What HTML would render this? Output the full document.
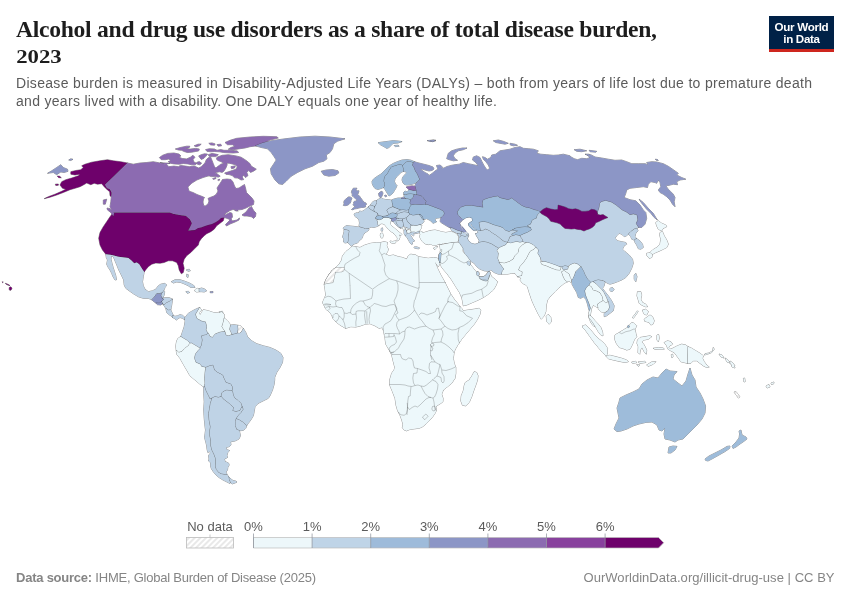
<!DOCTYPE html>
<html><head><meta charset="utf-8">
<style>
html,body{margin:0;padding:0;background:#fff;}
body{width:850px;height:600px;overflow:hidden;position:relative;font-family:"Liberation Sans",sans-serif;}
svg{position:absolute;left:0;top:0;}
.t{font-family:"Liberation Serif",serif;font-weight:700;font-size:23.6px;fill:#1d1d1d}
.s{font-family:"Liberation Sans",sans-serif;font-size:14px;fill:#5b5b5b}
.l{font-family:"Liberation Sans",sans-serif;font-size:13px;fill:#5b5b5b}
.f{font-family:"Liberation Sans",sans-serif;font-size:13px;fill:#858585}
.logo{font-family:"Liberation Sans",sans-serif;font-weight:700;font-size:11.6px;fill:#fff;letter-spacing:-0.3px}
.c path{stroke:#333;stroke-opacity:0.55;stroke-width:0.9;stroke-linejoin:round;paint-order:stroke}
</style></head><body>
<svg width="850" height="600" viewBox="0 0 850 600">
<defs>
<pattern id="hatch" patternUnits="userSpaceOnUse" width="4" height="4" patternTransform="rotate(45)"><rect width="4" height="4" fill="#fff"/><line x1="2" y1="0" x2="2" y2="4" stroke="#ddd" stroke-width="1.3"/></pattern>
</defs>
<text class="t" x="16" y="36.5" textLength="641" lengthAdjust="spacing">Alcohol and drug use disorders as a share of total disease burden,</text>
<text class="t" transform="translate(16.2,63.4) scale(1.23,1)" style="font-size:18.5px">2023</text>
<text class="s" x="16" y="88" textLength="796" lengthAdjust="spacing">Disease burden is measured in Disability-Adjusted Life Years (DALYs) – both from years of life lost due to premature death</text>
<text class="s" x="16" y="106" textLength="481" lengthAdjust="spacing">and years lived with a disability. One DALY equals one year of healthy life.</text>
<rect x="769" y="16" width="65" height="36" fill="#002147"/>
<rect x="769" y="49" width="65" height="3" fill="#ce261e"/>
<text class="logo" x="801.5" y="31" text-anchor="middle">Our World</text>
<text class="logo" x="801.5" y="43" text-anchor="middle">in Data</text>
<g class="c">
<path fill="#bfd3e6" d="M368.0 215.0L372.0 206.0L385.0 200.0L400.0 200.0L415.0 205.0L421.0 211.0L421.0 226.0L416.0 230.0L411.0 228.0L404.0 226.0L396.0 221.0L388.0 218.0L378.0 220.0Z" style="stroke:none"/>
<path fill="#6e016b" d="M81.7 165.8L85.0 164.2L91.7 162.2L100.0 160.8L107.5 159.7L113.3 160.8L120.8 161.7L127.5 163.0L105.0 184.7L107.0 188.0L110.0 189.2L111.7 192.5L111.3 196.7L110.0 195.8L109.7 191.7L107.5 190.0L104.2 186.7L101.7 183.7L97.5 184.2L94.2 183.3L90.8 184.7L86.7 183.0L83.3 185.0L80.0 186.7L75.0 188.3L70.0 189.7L63.3 192.5L56.7 195.0L50.0 197.2L44.2 198.7L48.3 196.7L55.0 194.2L61.7 191.3L65.8 189.2L62.5 188.3L60.0 185.0L61.7 181.7L65.8 179.7L71.7 178.0L78.3 175.8L80.0 174.2L75.0 175.0L70.8 174.2L70.8 171.7L75.8 170.5L80.8 169.7L83.3 167.5ZM57.2 176.0L59.7 176.3L61.3 177.7L58.7 177.7ZM55.3 184.2L58.3 184.0L58.3 185.3L55.8 185.5ZM113.3 212.5L170.0 212.5L173.3 213.8L180.0 215.0L185.8 215.8L190.0 219.2L192.0 223.3L190.0 227.5L188.3 230.5L193.3 229.7L200.0 227.0L206.7 224.2L213.3 221.7L218.3 218.3L221.7 216.7L224.2 217.5L223.3 220.8L220.0 223.3L216.7 225.8L214.2 229.2L210.8 231.7L206.7 233.7L204.2 235.8L201.3 238.7L199.2 241.7L198.3 245.0L195.0 248.3L190.8 252.5L186.7 255.8L184.2 259.2L183.0 263.3L184.2 268.3L183.3 272.5L181.3 273.8L179.2 270.0L178.3 265.8L176.7 262.5L172.5 260.8L168.3 260.8L164.2 262.5L160.0 263.3L155.8 263.0L151.7 264.2L148.3 266.7L145.8 269.7L144.2 272.0L141.7 268.3L139.2 264.2L136.7 262.5L134.2 263.3L131.7 260.8L128.3 258.0L124.2 257.5L118.3 256.7L111.7 255.0L105.8 254.2L102.5 250.0L100.0 245.0L98.7 238.3L100.0 232.5L103.3 226.7L106.7 221.7L110.0 216.7ZM9.2 287.6L10.6 286.8L12.0 288.0L11.5 289.6L10.0 290.6L9.2 289.4ZM5.3 283.3L7.1 283.9L8.8 284.7L10.0 285.6L8.2 285.3L5.9 284.1ZM2.1 281.8L3.3 282.1L2.6 282.7Z"/>
<path fill="#8c96c6" d="M47.5 173.3L51.7 170.8L56.7 167.5L60.8 164.7L63.3 167.5L67.5 169.2L68.0 171.3L64.2 172.5L60.8 172.0L56.7 174.7L53.3 172.5ZM68.7 160.0L70.8 158.8L73.0 159.3L70.8 160.5ZM401.0 198.0L403.5 197.0L405.5 198.5L404.5 199.0L401.5 199.0ZM413.0 162.8L414.0 161.5L417.0 162.5L421.0 163.5L425.0 164.5L429.0 165.5L433.0 167.0L434.0 169.0L432.0 170.5L429.0 171.0L425.0 170.0L422.0 169.0L420.5 169.5L423.0 171.0L425.0 172.5L428.0 174.0L429.0 175.5L432.0 173.5L435.0 171.0L438.0 169.0L437.0 167.0L436.5 165.5L440.0 165.0L442.5 167.0L441.0 168.5L444.0 168.0L447.0 166.5L449.0 166.0L451.7 165.3L455.0 164.7L459.2 164.2L463.3 162.5L468.3 163.7L473.3 164.7L478.3 165.8L475.8 162.5L472.5 160.0L473.3 157.0L476.7 155.8L480.0 157.5L482.0 161.7L483.7 165.0L485.8 168.3L487.5 170.0L489.7 168.3L488.3 165.0L485.8 161.7L483.3 159.2L482.5 156.7L485.0 157.5L487.5 159.2L490.8 157.5L491.7 155.0L495.8 154.2L500.0 150.8L505.0 150.0L510.0 149.2L515.0 147.5L520.0 146.7L523.3 148.3L528.3 148.7L533.3 149.2L538.3 150.8L536.7 153.3L540.8 154.2L546.7 154.7L553.3 155.3L558.3 155.0L563.3 154.2L570.0 155.8L570.0 156.3L574.2 158.7L577.5 159.7L581.7 158.3L586.7 158.7L590.0 157.5L587.5 155.3L590.8 154.7L595.0 157.0L601.7 158.0L608.3 159.2L615.0 160.3L621.7 160.0L626.7 161.7L631.7 163.7L638.3 163.7L645.0 163.7L648.3 164.7L646.7 162.5L651.7 161.7L656.7 162.0L663.3 163.7L668.3 166.3L673.3 169.7L678.3 173.3L676.7 175.0L681.7 177.5L685.8 179.2L680.0 180.0L676.7 181.7L677.5 184.7L673.3 184.2L669.2 185.3L665.8 185.8L668.3 189.2L670.8 191.7L673.3 194.2L675.0 197.5L674.2 201.7L675.0 206.7L672.5 204.2L670.0 200.0L666.7 196.7L663.3 194.2L660.0 192.5L658.3 190.0L660.8 186.7L660.0 182.5L658.3 180.0L656.7 183.3L655.0 182.5L650.8 181.7L648.3 184.2L647.5 187.5L643.3 186.7L636.7 187.5L630.0 188.3L626.7 190.0L625.8 193.3L624.2 197.5L630.0 199.7L635.8 200.8L640.0 205.0L643.3 210.0L645.8 212.5L646.7 218.3L645.0 224.2L641.7 227.5L638.3 227.5L635.8 223.3L637.5 220.0L636.7 215.0L633.3 214.2L630.0 215.0L626.7 212.5L621.7 210.0L616.7 205.8L611.7 202.5L605.8 200.8L601.7 201.7L600.0 203.3L599.2 208.3L597.5 214.2L595.0 214.2L590.8 212.5L585.0 213.3L580.0 214.2L573.3 212.5L566.7 211.7L561.7 210.3L557.5 210.0L555.0 212.5L550.0 211.3L544.2 212.5L540.0 213.3L538.3 210.8L534.2 210.0L530.0 208.3L525.8 207.5L521.7 205.8L518.3 203.3L515.0 200.8L511.7 198.3L508.3 200.0L505.0 199.2L500.0 198.0L497.5 196.3L493.3 197.0L488.3 198.3L483.3 200.0L482.5 203.3L483.3 207.5L478.3 206.7L471.7 205.8L465.8 205.8L460.8 207.5L457.5 211.7L458.3 215.0L461.7 218.3L460.0 222.5L460.8 226.7L462.5 230.0L464.0 232.5L464.0 232.5L461.5 231.8L459.0 231.0L456.0 230.0L453.0 228.5L450.0 227.8L448.3 227.0L445.0 225.0L441.7 223.0L440.0 221.5L440.5 219.0L441.2 217.1L442.5 216.0L444.0 214.0L443.5 211.5L440.0 209.5L436.0 208.0L432.0 206.5L428.0 205.0L424.5 204.5L425.5 205.5L425.0 204.0L426.0 201.0L424.0 199.0L422.0 196.5L419.5 195.5L416.5 195.0L416.5 193.5L416.0 190.5L415.5 188.5L415.0 186.2L415.5 184.0L417.0 182.0L419.5 179.5L418.5 177.5L417.0 174.0L415.0 171.0L414.0 168.0L412.0 165.0ZM446.7 158.7L448.3 153.3L451.7 150.8L456.7 149.2L462.5 148.0L467.0 148.0L463.3 149.7L458.3 150.8L455.0 153.0L453.3 155.8L455.0 158.7L457.5 160.3L453.3 160.8L449.2 159.7ZM493.3 140.8L498.3 140.0L503.3 141.3L508.3 143.3L505.0 144.2L500.0 143.3L495.8 142.5ZM510.0 143.3L515.0 144.2L517.5 145.3L513.3 145.8L510.3 145.0ZM430.0 140.8L433.3 140.0L435.8 140.7L432.5 141.7ZM639.2 199.2L643.3 202.5L648.3 208.3L653.3 213.3L655.8 217.5L657.5 220.0L654.2 217.5L650.8 213.3L646.7 209.2L642.5 204.2L640.0 200.8ZM574.2 149.7L580.0 149.2L586.7 150.8L581.7 151.7L576.7 151.3ZM589.2 150.3L596.7 151.3L595.8 152.2L590.0 151.7ZM585.0 154.2L589.2 154.2L590.8 155.8L587.5 155.3ZM655.3 159.2L657.5 159.5L658.3 160.5L656.3 160.3ZM427.1 140.6L431.3 140.2L435.5 140.2L433.4 141.3L429.9 141.6Z"/>
<path fill="#8c6bb1" d="M127.5 163.0L133.3 164.2L140.0 163.0L146.7 162.5L153.3 161.7L160.0 163.0L165.0 164.2L170.0 163.3L160.1 162.7L166.4 164.2L168.9 166.7L174.0 166.1L178.4 166.7L180.3 165.4L185.4 166.1L189.2 166.7L194.2 166.1L198.7 168.0L201.2 166.7L205.0 162.9L206.3 159.7L208.2 157.8L210.7 157.2L212.0 160.4L213.2 163.5L214.5 166.7L215.8 168.0L218.3 166.1L220.8 164.2L224.0 163.2L226.5 163.2L227.2 164.8L225.9 168.0L224.0 171.1L222.1 172.4L219.6 171.8L215.8 172.4L213.2 173.7L210.7 174.3L208.8 175.8L203.1 177.5L196.8 180.0L191.7 183.2L187.9 187.0L188.9 190.8L190.0 191.5L193.0 192.5L197.0 194.5L201.0 196.0L204.5 197.5L203.5 199.0L203.0 202.0L203.5 205.0L205.0 206.2L208.0 204.0L209.0 201.0L208.0 198.5L210.0 197.5L214.0 196.0L216.5 194.0L218.0 191.0L217.0 188.0L219.0 185.0L221.0 182.0L222.5 179.5L227.0 179.0L231.0 179.5L233.0 182.0L234.5 186.0L236.0 188.5L239.0 188.0L242.0 186.0L244.5 184.5L245.5 188.0L246.5 192.5L249.0 195.0L252.0 198.0L254.0 201.0L253.5 204.5L250.0 206.0L246.0 208.0L242.0 209.5L237.0 210.0L233.0 209.5L230.0 210.5L227.0 212.5L224.0 214.5L225.5 214.8L230.0 212.5L232.0 213.2L232.5 217.0L231.2 218.8L232.0 221.0L237.0 220.0L239.5 218.0L239.0 220.0L235.0 222.0L230.0 224.0L226.5 226.0L225.5 224.5L228.0 222.0L230.0 220.0L228.5 219.0L226.0 218.0L224.0 217.5L221.0 218.0L219.0 220.0L216.0 222.0L212.0 224.0L208.0 225.0L205.0 226.0L201.0 227.5L198.0 228.0L195.0 230.0L188.3 230.5L190.0 227.5L192.0 223.3L190.0 219.2L185.8 215.8L180.0 215.0L173.3 213.8L170.0 212.5L113.3 212.5L112.8 212.8L110.0 206.7L110.8 201.7L111.3 196.7L111.7 192.5L110.0 189.2L107.0 188.0L105.0 184.7ZM103.3 200.0L106.7 199.2L105.3 204.2L103.3 204.2ZM107.0 208.0L110.0 208.7L114.2 213.3L113.3 216.2L110.8 212.5L107.5 210.0ZM242.0 215.0L246.0 212.0L249.0 208.0L251.5 206.5L252.5 208.5L254.0 211.0L256.0 213.0L255.5 216.5L253.5 218.5L252.0 217.0L250.0 216.5L247.0 216.0L244.0 216.0ZM234.5 210.0L237.0 210.0L238.2 211.0L236.0 211.0ZM217.0 157.2L222.1 155.3L228.4 154.7L236.0 155.9L241.1 157.2L246.1 160.4L249.9 163.5L251.2 166.1L256.3 169.2L253.7 171.1L250.6 172.4L248.7 170.5L246.8 172.4L248.0 175.6L245.5 177.5L243.6 174.9L242.3 177.1L243.6 179.6L241.1 180.0L237.9 178.1L234.7 177.8L232.2 175.6L229.1 174.6L225.9 174.3L224.6 173.0L228.4 171.8L232.2 170.5L236.0 169.2L237.3 166.7L235.4 164.8L232.2 163.9L229.1 163.2L226.5 163.2L224.0 163.2L220.8 161.6L217.7 160.4L216.4 158.9ZM230.9 166.7L235.4 165.8L234.5 168.0L231.6 168.7ZM210.7 174.3L213.9 172.4L217.0 173.7L220.2 176.2L218.3 177.1L214.5 176.6L211.3 176.6L208.8 175.8ZM212.6 178.7L215.5 177.6L216.0 178.5L213.5 179.4ZM217.7 180.0L219.3 179.1L219.8 180.1L218.3 180.6ZM159.4 157.6L162.6 155.3L167.7 153.4L174.0 153.0L179.1 154.1L180.9 155.9L179.1 157.2L182.2 158.5L186.6 158.9L190.4 157.2L193.0 155.3L194.9 157.2L193.0 159.7L194.2 162.3L196.8 163.2L195.5 164.8L191.7 164.8L187.9 163.9L183.5 163.5L179.1 164.2L174.0 163.9L170.2 163.2L168.3 161.6L170.8 160.4L168.9 159.1L165.1 159.7L161.3 159.7ZM175.3 149.0L180.3 147.5L186.6 146.2L189.8 146.2L189.2 147.7L185.4 149.0L190.4 149.0L195.5 148.4L199.3 149.0L198.7 150.9L195.5 151.5L191.7 152.2L187.3 152.5L184.1 151.5L181.6 150.3L178.4 150.0ZM194.2 145.8L198.0 144.2L201.2 144.2L199.3 145.8L196.1 146.7ZM198.7 155.9L201.2 154.7L204.4 153.8L207.5 154.1L205.6 156.6L203.7 158.5L201.2 159.4L199.9 157.8ZM196.8 162.3L199.3 161.6L201.6 163.2L199.9 164.8L197.4 164.2ZM208.2 154.7L212.0 153.4L215.8 154.1L218.3 154.7L215.8 156.6L212.6 156.6L209.4 156.6ZM205.6 149.6L209.4 148.7L214.5 149.0L217.0 150.3L220.8 149.6L224.0 150.3L230.9 150.3L237.3 150.9L238.5 152.5L233.5 153.0L227.8 152.8L223.4 152.5L219.6 151.8L214.5 151.5L210.7 151.8L206.9 151.3ZM208.8 143.3L212.0 142.9L215.1 143.9L214.5 145.2L210.7 144.9ZM217.0 144.6L220.8 144.2L221.5 145.8L218.3 146.2ZM225.0 142.5L230.0 140.3L236.7 138.3L250.0 137.0L263.3 136.3L276.7 136.7L278.3 138.0L270.0 140.0L265.0 142.5L259.2 144.2L256.7 145.8L250.0 146.7L245.0 148.0L240.0 148.7L233.3 149.7L228.3 149.2L230.8 147.5L235.0 146.3L232.5 144.7L227.5 144.7Z"/>
<path fill="#8c96c6" d="M255.5 145.8L262.5 143.0L272.5 140.5L285.0 138.8L300.0 137.0L315.0 136.2L330.0 137.0L345.0 138.8L337.5 141.2L333.8 143.8L332.5 148.8L330.0 152.5L326.2 155.0L327.0 158.8L323.8 161.2L318.8 162.5L312.5 166.2L305.0 168.8L297.5 172.5L291.2 176.2L286.2 181.2L282.5 184.5L278.8 183.8L275.0 180.0L271.2 173.8L270.5 168.8L273.8 163.8L276.2 160.0L273.8 156.2L271.2 152.5L267.5 148.8L261.2 147.5Z"/>
<path fill="#8c96c6" d="M321.2 171.2L326.2 170.0L332.5 169.5L338.0 170.8L338.8 173.0L335.0 175.5L328.8 176.2L323.8 175.0Z"/>
<path fill="#bfd3e6" d="M144.2 272.0L143.3 276.7L142.5 281.7L143.3 285.8L145.0 289.2L148.3 291.7L152.5 290.8L155.8 289.2L158.3 285.8L160.8 284.2L165.0 283.3L166.7 285.0L165.0 287.5L163.7 290.8L162.5 293.0L161.7 293.0L159.2 293.7L156.7 293.7L155.3 295.8L153.3 298.3L151.7 299.7L148.3 298.3L143.3 298.3L138.3 296.7L133.3 293.7L129.2 290.8L125.8 288.3L124.2 285.0L123.7 280.0L121.3 275.0L118.8 270.0L116.8 265.0L114.7 260.0L113.3 256.7L111.3 256.0L111.0 259.2L112.0 263.3L113.2 267.5L114.5 271.7L115.8 275.8L116.5 279.7L115.0 280.0L113.0 276.7L111.7 273.3L110.0 270.0L108.3 267.5L106.7 264.2L107.5 260.0L106.3 257.5L105.8 254.2L111.7 255.0L118.3 256.7L124.2 257.5L128.3 258.0L131.7 260.8L134.2 263.3L136.7 262.5L139.2 264.2L141.7 268.3L144.2 272.0Z"/>
<path fill="#8c96c6" d="M155.3 295.8L156.7 293.7L159.2 293.7L161.7 293.0L161.3 295.8L162.5 298.3L164.2 299.2L161.7 301.7L159.2 303.3L155.8 303.0L153.3 301.3L151.7 299.7L153.3 298.3Z"/>
<path fill="#bfd3e6" d="M162.5 293.0L163.7 290.8L164.7 291.7L164.2 295.0L163.0 297.5L162.5 298.3L161.3 295.8L161.7 293.0Z"/>
<path fill="#bfd3e6" d="M162.5 298.3L165.0 297.7L169.2 297.7L172.5 299.2L170.8 300.8L168.3 302.0L165.8 303.3L164.2 305.0L162.5 303.7L161.7 301.7L164.2 299.2Z"/>
<path fill="#8c96c6" d="M155.8 303.0L159.2 303.3L161.7 301.7L162.5 303.7L160.8 305.0L157.5 304.7Z"/>
<path fill="#bfd3e6" d="M164.2 305.0L165.8 303.3L168.3 302.0L170.8 300.8L172.5 299.2L172.0 303.3L171.3 307.5L170.8 310.0L168.3 310.3L165.8 308.3L162.5 303.7Z"/>
<path fill="#bfd3e6" d="M165.8 308.3L168.3 310.3L170.8 310.0L172.0 312.5L173.3 315.3L172.5 317.5L170.8 315.8L168.3 314.2L166.7 312.5Z"/>
<path fill="#bfd3e6" d="M172.5 315.3L175.0 316.3L177.5 315.8L180.0 314.7L182.5 315.3L185.0 317.5L184.7 319.7L182.5 318.3L180.0 317.5L178.0 318.7L176.3 320.0L174.2 318.3L172.5 317.5Z"/>
<path fill="#bfd3e6" d="M171.3 281.7L175.0 279.7L180.0 279.7L185.0 281.3L190.0 283.3L194.2 285.8L195.0 287.5L190.8 287.5L188.3 285.8L185.0 284.2L180.8 282.5L176.7 282.0L173.3 283.0Z"/>
<path fill="#bfd3e6" d="M185.8 291.7L188.3 291.3L189.7 292.5L187.5 293.3Z"/>
<path fill="#edf8fb" d="M194.7 290.0L197.0 288.3L199.2 288.7L199.2 291.7L196.7 292.0L195.0 291.3Z"/>
<path fill="#bfd3e6" d="M199.2 288.7L201.7 288.0L205.0 289.2L206.7 290.8L204.2 292.0L201.7 291.7L199.2 291.7Z"/>
<path fill="#8c96c6" d="M210.0 291.7L213.0 291.5L213.0 292.7L210.3 292.8Z"/>
<path fill="#bfd3e6" d="M186.3 270.0L189.2 269.2L190.3 270.8L188.3 271.3ZM186.7 274.2L188.3 274.7L188.0 277.5L186.7 276.7Z"/>
<path fill="#edf8fb" d="M219.2 311.7L222.5 311.3L223.0 313.3L220.0 313.7Z"/>
<path fill="#bfd3e6" d="M185.0 317.5L188.3 313.3L192.5 310.8L196.7 308.7L199.7 307.5L198.3 310.0L195.8 314.2L197.0 318.3L201.7 320.8L205.8 321.7L207.0 326.7L206.3 330.0L208.3 333.3L205.8 335.0L201.7 335.8L202.5 340.0L201.7 345.0L200.0 348.3L195.8 345.8L191.7 343.3L190.0 343.3L187.5 340.8L183.3 338.3L180.8 336.7L182.5 331.7L184.2 326.7L185.0 321.7L185.0 317.5Z"/>
<path fill="#edf8fb" d="M199.7 307.5L201.7 310.0L199.2 312.5L200.0 315.0L201.7 312.5L203.3 309.7L208.3 310.8L213.3 312.5L218.3 313.0L221.7 312.0L224.2 314.2L224.2 318.0L223.3 322.5L222.0 326.7L224.7 330.8L225.0 331.7L222.5 331.7L219.2 332.5L215.0 334.2L212.5 337.5L210.0 336.7L208.3 333.3L206.3 330.0L207.0 326.7L205.8 321.7L201.7 320.8L197.0 318.3L195.8 314.2L198.3 310.0L199.7 307.5Z"/>
<path fill="#edf8fb" d="M224.2 318.0L227.5 320.8L230.8 325.0L229.7 329.2L231.3 332.5L232.0 334.7L228.7 335.8L225.8 335.3L225.0 331.7L224.7 330.8L222.0 326.7L223.3 322.5L224.2 318.0Z"/>
<path fill="#bfd3e6" d="M230.8 325.0L234.2 324.7L238.0 325.3L238.3 329.2L237.5 333.3L234.2 334.2L232.0 334.7L231.3 332.5L229.7 329.2L230.8 325.0Z"/>
<path fill="url(#hatch)" d="M238.0 325.3L240.8 325.8L243.3 328.3L241.7 331.7L239.7 333.3L237.5 333.3L238.3 329.2L238.0 325.3Z"/>
<path fill="#bfd3e6" d="M200.0 348.3L201.7 345.0L202.5 340.0L201.7 335.8L205.8 335.0L208.3 333.3L210.0 336.7L212.5 337.5L215.0 334.2L219.2 332.5L222.5 331.7L225.0 331.7L225.8 335.3L228.7 335.8L232.0 334.7L234.2 334.2L237.5 333.3L239.7 333.3L241.7 331.7L243.3 328.3L245.8 332.5L247.5 336.7L251.7 340.8L256.7 343.7L263.3 345.8L270.0 347.5L275.8 350.0L280.8 353.3L283.0 357.5L282.5 362.5L280.0 367.5L276.7 372.5L274.7 377.5L274.7 380.0L274.2 384.2L272.5 390.0L270.0 395.8L268.3 398.3L263.3 400.8L258.3 403.3L255.0 406.7L254.2 411.7L253.3 415.8L250.8 420.0L248.3 423.3L246.7 425.8L243.3 422.5L239.2 420.0L235.8 418.7L238.3 415.0L240.8 412.5L243.0 409.2L242.0 406.7L240.8 403.3L238.3 400.8L235.0 398.3L233.3 395.8L232.5 391.7L232.0 390.8L232.5 387.5L230.8 384.2L225.8 382.5L224.2 379.2L222.5 375.0L217.5 372.5L214.2 370.0L213.0 365.3L210.0 365.8L205.8 367.5L201.7 366.7L200.0 364.2L195.8 362.5L194.2 358.3L195.0 354.2L197.5 350.8L200.0 348.3Z"/>
<path fill="#edf8fb" d="M180.8 336.7L183.3 338.3L187.5 340.8L190.0 343.3L188.3 345.8L185.0 348.3L181.7 351.7L178.7 352.5L176.2 350.0L175.8 345.8L176.7 340.8L178.3 338.0L180.8 336.7Z"/>
<path fill="#edf8fb" d="M190.0 343.3L191.7 343.3L195.8 345.8L200.0 348.3L197.5 350.8L195.0 354.2L194.2 358.3L195.8 362.5L200.0 364.2L201.7 366.7L205.8 367.5L205.0 373.3L204.7 378.3L205.0 383.3L204.3 386.3L203.7 387.0L200.0 384.2L195.0 380.0L190.0 375.8L186.7 370.0L183.3 364.2L180.0 358.3L176.7 354.2L176.2 350.0L178.7 352.5L181.7 351.7L185.0 348.3L188.3 345.8L190.0 343.3Z"/>
<path fill="#bfd3e6" d="M205.8 367.5L210.0 365.8L213.0 365.3L214.2 370.0L217.5 372.5L222.5 375.0L224.2 379.2L225.8 382.5L230.8 384.2L232.5 387.5L232.0 390.8L226.7 390.3L223.0 391.7L221.7 393.3L221.3 396.7L218.3 397.5L215.0 396.7L211.7 398.3L210.0 399.2L208.3 395.8L205.8 390.8L204.3 386.3L205.0 383.3L204.7 378.3L205.0 373.3L205.8 367.5Z"/>
<path fill="#bfd3e6" d="M221.3 396.7L221.7 393.3L223.0 391.7L226.7 390.3L232.0 390.8L232.5 391.7L233.3 395.8L235.0 398.3L238.3 400.8L240.8 403.3L242.0 406.7L240.0 410.8L235.8 411.7L232.5 410.8L233.3 407.5L230.8 405.0L226.7 401.7L223.3 399.2L221.3 396.7Z"/>
<path fill="#bfd3e6" d="M235.8 418.7L239.2 420.0L243.3 422.5L246.7 425.8L245.8 428.3L243.3 430.3L240.0 430.8L236.7 429.7L235.0 425.8L235.0 421.7L235.8 418.7Z"/>
<path fill="#bfd3e6" d="M211.7 398.3L215.0 396.7L218.3 397.5L221.3 396.7L223.3 399.2L226.7 401.7L230.8 405.0L233.3 407.5L232.5 410.8L235.8 411.7L240.0 410.8L242.0 406.7L243.0 409.2L240.8 412.5L238.3 415.0L235.8 418.7L235.0 421.7L235.0 425.8L236.7 429.7L240.0 430.8L239.5 431.5L240.5 435.5L239.0 439.0L235.0 441.0L230.5 441.8L231.0 445.0L229.5 446.5L226.2 447.5L226.5 449.5L229.5 450.5L227.8 452.5L227.0 455.5L227.5 457.5L224.5 459.0L225.0 461.5L228.5 463.0L229.2 465.0L227.8 467.5L227.5 470.0L226.0 472.0L227.2 474.8L224.0 474.5L221.0 474.0L218.5 472.5L216.0 469.5L215.0 466.0L215.5 462.0L215.0 458.0L213.5 454.0L211.5 450.0L210.5 446.0L210.5 441.0L209.5 436.0L209.5 430.0L210.0 426.7L208.7 420.0L208.3 413.3L209.2 408.3L210.0 403.3L211.7 398.3ZM228.5 476.5L231.0 479.0L233.0 480.5L235.5 481.0L237.0 482.0L235.0 483.0L232.0 484.0L230.0 482.0L229.0 479.5Z"/>
<path fill="#bfd3e6" d="M204.3 386.3L205.8 390.8L208.3 395.8L210.0 399.2L211.7 398.3L210.0 403.3L209.2 408.3L208.3 413.3L208.7 420.0L210.0 426.7L209.5 430.0L209.5 436.0L210.5 441.0L210.5 446.0L211.5 450.0L213.5 454.0L215.0 458.0L215.5 462.0L215.0 466.0L216.0 469.5L218.5 472.5L221.0 474.0L224.0 474.5L227.2 474.8L228.5 476.5L229.0 479.5L230.0 482.0L230.0 483.5L227.0 482.0L223.0 480.0L219.0 477.5L216.0 475.0L213.5 472.0L211.5 469.0L210.5 466.0L210.5 462.5L208.5 461.0L209.0 459.0L208.5 455.5L210.5 453.0L209.5 451.5L207.8 452.5L207.0 449.0L206.5 445.0L205.5 441.0L204.5 437.5L205.0 434.0L205.5 430.0L205.0 426.7L204.2 418.3L203.7 410.0L204.2 401.7L203.7 393.3L203.7 387.0Z"/>
<path fill="#9ebcda" d="M372.0 181.5L373.5 179.0L377.0 176.5L381.0 174.0L385.0 170.0L389.0 166.0L393.0 163.5L397.0 161.8L402.0 160.0L407.0 159.5L411.0 160.2L414.0 161.5L413.0 162.8L411.5 162.2L409.5 161.5L407.0 161.8L404.5 163.5L402.5 165.5L400.5 164.5L398.0 165.0L395.0 166.0L391.5 167.0L389.5 170.0L388.0 173.0L385.5 175.5L384.5 178.0L384.0 181.0L385.0 184.0L384.5 186.5L383.5 187.5L381.0 188.5L378.0 189.5L375.0 188.5L373.2 186.0L372.2 183.5Z"/>
<path fill="#9ebcda" d="M398.0 165.0L400.5 164.5L402.5 165.5L403.5 168.0L403.5 171.5L401.5 172.0L399.5 174.0L397.0 176.5L395.0 179.0L394.5 181.5L395.5 184.0L397.0 185.5L396.0 188.0L394.5 190.5L393.0 193.0L391.5 194.5L389.0 196.0L388.0 194.5L386.5 192.0L385.0 189.5L383.5 187.5L384.5 186.5L385.0 184.0L384.0 181.0L384.5 178.0L385.5 175.5L388.0 173.0L389.5 170.0L391.5 167.0L395.0 166.0Z"/>
<path fill="#9ebcda" d="M403.5 171.5L403.5 168.0L402.5 165.5L404.5 163.5L407.0 161.8L409.5 161.5L411.5 162.2L413.0 162.8L412.0 165.0L414.0 168.0L415.0 171.0L417.0 174.0L418.5 177.5L419.5 179.5L417.0 182.0L414.5 183.5L411.0 184.5L407.0 185.0L404.5 184.5L403.0 183.0L402.0 180.0L402.5 177.5L404.5 175.0L406.5 173.0L406.0 171.8Z"/>
<path fill="#8c6bb1" d="M406.0 187.0L409.0 186.2L412.0 185.8L415.0 186.2L415.5 188.5L416.0 190.5L414.0 191.0L411.0 190.2L409.0 189.8L407.5 188.5Z"/>
<path fill="#9ebcda" d="M403.5 192.5L405.0 191.0L407.0 191.8L409.0 190.0L411.0 190.2L414.0 191.0L416.0 190.5L416.5 193.5L416.5 195.0L414.0 194.5L411.0 194.0L408.0 194.2L405.5 194.8L403.8 194.5Z"/>
<path fill="#9ebcda" d="M403.8 194.5L405.5 194.8L408.0 194.2L411.0 194.0L414.0 194.5L413.5 197.0L412.0 199.0L410.0 200.0L408.0 199.0L405.5 198.5L404.5 197.0Z"/>
<path fill="#8c96c6" d="M414.0 194.5L416.5 195.0L419.5 195.5L422.0 196.5L424.0 199.0L426.0 201.0L425.0 204.0L425.5 205.5L422.0 205.0L418.0 204.8L414.0 204.5L411.0 205.0L409.5 203.0L410.0 201.0L410.0 200.0L412.0 199.0L413.5 197.0Z"/>
<path fill="#9ebcda" d="M391.5 200.0L394.0 199.0L398.0 198.0L401.0 198.0L401.5 199.0L404.5 199.0L408.0 199.0L410.0 200.0L410.0 201.0L409.5 203.0L411.0 205.0L410.5 207.0L409.5 209.5L408.0 211.0L405.0 210.5L402.0 210.0L399.0 209.0L396.0 208.0L394.0 207.0L392.5 205.0L391.8 202.5Z"/>
<path fill="#8c96c6" d="M378.5 193.5L380.0 192.0L382.0 191.2L383.0 193.0L382.5 195.0L381.5 197.0L380.0 197.5L379.0 196.0ZM384.5 195.5L386.0 195.0L386.8 196.2L385.5 197.0Z"/>
<path fill="#8c96c6" d="M343.3 205.4L344.1 203.9L343.8 202.5L344.1 200.7L345.3 199.5L347.0 198.1L348.2 197.0L350.0 196.9L351.7 197.8L351.9 199.0L351.1 200.1L350.8 201.9L350.0 203.3L348.8 204.5L347.0 205.4L345.0 205.7Z"/>
<path fill="#8c96c6" d="M353.3 188.2L357.0 188.2L355.8 189.9L357.3 190.8L359.0 190.8L358.4 193.1L357.5 194.9L359.3 195.8L360.5 197.5L361.6 199.0L362.8 200.7L364.0 202.2L366.0 203.0L366.5 204.2L365.4 205.7L365.7 206.8L363.7 207.4L361.3 207.5L359.0 208.0L356.7 208.6L354.6 208.9L352.9 209.8L351.5 209.5L353.5 207.7L355.2 206.5L353.8 205.7L352.9 204.5L354.0 203.6L353.5 202.5L354.3 201.3L356.1 201.0L357.0 200.1L355.8 199.0L354.3 197.8L353.3 196.6L352.0 195.8L352.3 194.0L351.4 192.5L351.7 190.8L352.6 189.3Z"/>
<path fill="#bfd3e6" d="M354.0 214.0L356.5 212.8L359.0 213.0L359.5 211.0L362.0 211.5L364.5 210.0L367.0 208.0L368.5 206.5L369.5 208.5L372.0 210.0L374.5 211.5L376.0 212.0L377.5 213.0L377.0 215.0L376.0 217.0L375.0 219.0L376.2 219.5L377.0 220.0L378.0 222.0L377.5 224.0L379.0 225.5L377.0 226.5L374.0 227.5L371.0 227.0L368.5 228.5L365.5 229.0L363.0 228.0L360.0 227.2L359.0 226.0L359.5 223.0L359.0 220.0L357.5 218.0L355.0 216.5ZM381.2 228.5L382.5 227.8L382.8 230.0L382.0 231.5L381.2 230.5Z"/>
<path fill="#edf8fb" d="M380.5 233.5L382.5 233.0L383.2 235.5L382.5 238.0L381.0 237.8L380.3 235.5ZM378.0 222.0L377.0 220.0L378.0 220.0L380.0 219.5L382.0 219.0L383.5 217.5L386.0 217.5L389.0 218.0L391.5 219.0L391.8 220.5L390.0 222.0L390.5 224.5L393.0 227.0L396.0 229.5L399.0 232.0L402.0 234.5L401.0 235.5L399.0 234.5L400.0 237.0L399.0 240.0L397.0 241.0L397.5 238.0L396.0 236.0L394.0 233.5L391.0 231.5L388.5 229.5L386.5 227.0L384.5 224.5L382.0 223.5L380.0 224.0L379.0 225.5L377.5 224.0ZM390.0 241.0L392.5 241.5L396.0 240.8L395.5 243.0L393.0 243.5L390.5 242.5Z"/>
<path fill="#bfd3e6" d="M343.0 228.0L346.5 225.5L350.0 226.0L355.0 226.5L360.0 227.2L363.0 228.0L365.5 229.0L368.5 228.5L369.0 230.0L367.0 231.5L364.5 233.0L363.0 235.5L362.0 238.5L359.5 240.5L357.5 243.0L354.0 244.0L351.5 246.0L350.0 245.0L348.5 243.0L347.5 242.5L348.0 240.5L348.0 237.0L348.5 233.5L349.0 230.8L346.5 230.0L344.0 229.5Z"/>
<path fill="#bfd3e6" d="M344.0 229.5L346.5 230.0L349.0 230.8L348.5 233.5L348.0 237.0L348.0 240.5L347.5 242.5L345.0 243.0L343.5 242.0L343.8 239.0L342.5 237.0L343.5 234.0L344.0 231.5Z"/>
<path fill="#bfd3e6" d="M368.5 206.5L370.0 205.5L372.0 205.0L374.0 206.0L374.5 208.0L374.0 209.5L374.5 211.5L372.0 210.0L369.5 208.5Z"/>
<path fill="#bfd3e6" d="M370.5 205.0L372.0 202.5L374.0 201.0L376.5 200.5L377.0 202.5L376.0 205.0L375.0 206.5L374.0 206.0L372.0 205.0Z"/>
<path fill="#bfd3e6" d="M376.5 200.5L378.0 199.5L380.0 198.5L381.5 198.0L383.0 199.0L385.5 199.5L388.5 199.5L390.0 200.0L391.5 200.0L391.8 202.5L392.5 205.0L392.5 207.0L390.0 208.0L388.0 209.0L387.0 210.5L388.0 212.5L389.5 214.0L387.5 215.0L386.0 215.8L383.5 216.2L382.0 216.2L379.0 215.8L377.5 213.0L376.0 212.0L374.5 211.5L374.0 209.5L374.5 208.0L375.0 206.5L376.0 205.0L377.0 202.5Z"/>
<path fill="#bfd3e6" d="M387.0 210.5L388.0 209.0L390.0 208.0L392.5 207.0L395.0 208.0L398.0 209.0L400.0 210.5L398.0 212.5L395.5 213.5L392.5 213.5L389.5 214.0L388.0 212.5Z"/>
<path fill="#bfd3e6" d="M397.0 212.5L399.5 210.5L403.0 210.0L406.5 210.5L409.0 210.0L408.5 212.5L410.0 214.0L408.0 212.5L404.0 212.0L400.0 213.0L398.5 214.0L396.5 214.0L395.5 213.5Z"/>
<path fill="#bfd3e6" d="M396.5 215.0L396.5 214.0L398.5 214.0L400.0 213.0L404.0 212.0L408.0 212.5L410.0 214.0L408.0 216.5L406.0 218.0L403.0 219.0L399.5 219.0L397.0 217.5Z"/>
<path fill="#bfd3e6" d="M392.0 220.5L392.5 220.5L395.0 220.0L396.5 219.0L399.5 219.0L403.0 219.0L402.5 220.0L400.5 221.0L397.5 220.5L396.0 221.5L397.0 224.0L399.0 226.5L401.0 228.5L398.5 227.0L396.0 225.0L394.0 222.5Z"/>
<path fill="#bfd3e6" d="M397.5 220.5L400.5 221.0L402.5 220.0L402.5 221.5L404.0 223.5L403.5 226.0L401.5 228.0L399.0 226.5L397.0 224.0L396.0 221.5Z"/>
<path fill="#bfd3e6" d="M408.0 216.5L410.0 214.0L413.0 215.0L416.0 214.5L419.0 214.0L421.0 216.5L422.0 218.5L423.5 219.5L424.0 221.5L422.5 223.5L420.0 224.5L417.0 225.0L413.5 225.0L410.5 224.5L408.0 222.5L406.5 220.0L406.0 218.0Z"/>
<path fill="#9ebcda" d="M419.0 214.0L421.0 214.5L423.0 217.0L423.5 219.5L422.0 218.5L421.0 216.5Z"/>
<path fill="#9ebcda" d="M409.0 210.0L410.0 207.0L411.5 205.0L415.0 204.5L420.0 205.0L424.5 204.5L428.0 205.0L432.0 206.5L436.0 208.0L440.0 209.5L443.5 211.5L444.0 214.0L442.5 216.0L441.2 217.1L439.2 217.9L435.8 218.3L435.0 220.0L436.7 221.7L435.0 222.5L432.9 223.3L431.2 221.2L429.2 220.0L426.7 218.7L423.7 219.6L423.0 217.0L421.0 214.5L419.0 214.0L416.0 214.5L413.0 215.0L410.0 214.0L408.5 212.5Z"/>
<path fill="#edf8fb" d="M418.8 231.8L420.8 231.2L422.7 232.1L422.1 233.8L420.0 234.0ZM420.0 235.0L420.8 233.3L424.2 232.5L428.3 231.2L431.7 230.4L435.0 230.0L438.3 230.8L441.7 231.8L445.8 232.5L450.0 231.8L454.2 232.5L456.7 234.2L458.3 236.7L458.8 239.2L457.5 241.7L453.3 242.1L450.0 242.9L446.7 243.3L443.3 242.9L441.7 244.2L439.2 243.8L436.7 245.0L433.3 245.4L430.8 244.2L428.3 244.6L425.0 243.8L422.5 241.7L420.8 239.2L419.6 236.7Z"/>
<path fill="#edf8fb" d="M433.5 248.0L435.5 247.0L437.5 246.5L436.5 248.0L434.5 249.5Z"/>
<path fill="#bfd3e6" d="M450.0 227.5L453.0 228.5L456.0 230.0L459.0 231.0L461.5 231.8L462.0 233.5L460.0 234.0L457.5 233.5L455.0 232.0L452.0 231.0Z"/>
<path fill="#bfd3e6" d="M457.5 233.5L460.0 234.0L461.5 236.0L462.5 238.0L460.5 237.8L459.0 236.5Z"/>
<path fill="#bfd3e6" d="M462.0 233.5L461.5 231.8L464.0 232.5L466.0 234.5L468.5 235.0L467.5 237.0L466.0 238.5L464.5 239.5L462.5 238.0L461.5 236.0L460.0 234.0Z"/>
<path fill="#9ebcda" d="M457.5 211.7L460.8 207.5L465.8 205.8L471.7 205.8L478.3 206.7L483.3 207.5L482.5 203.3L483.3 200.0L488.3 198.3L493.3 197.0L497.5 196.3L500.0 198.0L505.0 199.2L508.3 200.0L511.7 198.3L515.0 200.8L518.3 203.3L521.7 205.8L525.8 207.5L530.0 208.3L534.2 210.0L538.3 210.8L540.0 212.5L537.5 215.0L536.7 218.3L532.5 220.0L530.8 224.2L527.5 225.8L530.8 227.5L525.0 227.0L520.0 227.5L515.8 228.3L512.5 230.0L509.2 231.7L505.8 230.8L503.3 228.3L500.0 226.7L495.8 225.8L491.7 224.2L487.5 222.5L483.3 221.7L479.2 222.5L480.0 226.7L480.8 230.8L479.2 230.8L475.8 230.0L475.8 229.2L472.5 226.7L470.8 223.3L471.7 220.0L469.2 218.0L465.0 218.7L461.7 218.3L458.3 215.0Z"/>
<path fill="#bfd3e6" d="M479.2 222.5L483.3 221.7L487.5 222.5L491.7 224.2L495.8 225.8L500.0 226.7L503.3 228.3L505.8 230.8L509.2 231.7L512.5 230.0L515.8 228.3L518.3 230.8L515.0 232.5L511.7 234.2L513.3 235.8L510.0 236.7L509.2 239.2L507.5 242.5L504.2 241.7L500.8 239.2L496.7 235.8L492.5 233.3L489.2 230.8L485.8 229.2L482.5 230.8L480.8 230.8L480.0 226.7Z"/>
<path fill="#bfd3e6" d="M475.8 230.0L479.2 230.8L482.5 230.8L485.8 229.2L489.2 230.8L492.5 233.3L496.7 235.8L500.8 239.2L504.2 241.7L507.5 242.5L505.8 245.0L501.7 246.7L498.3 248.3L495.8 246.7L491.7 244.2L487.5 242.5L483.3 241.7L479.2 242.5L477.5 239.2L476.7 235.8L477.5 232.5Z"/>
<path fill="#9ebcda" d="M512.5 230.0L515.8 228.3L520.0 227.5L525.0 227.0L530.8 227.5L531.7 230.0L527.5 232.5L523.3 234.2L520.0 235.8L515.8 235.0L513.3 235.8L511.7 234.2L515.0 232.5L518.3 230.8Z"/>
<path fill="#bfd3e6" d="M510.0 236.7L513.3 235.8L515.8 235.0L520.0 235.8L522.5 239.2L523.3 241.7L520.0 242.5L516.7 241.7L513.3 242.5L510.8 243.3L507.5 242.5L509.2 239.2Z"/>
<path fill="#edf8fb" d="M498.3 248.3L501.7 246.7L505.8 245.0L507.5 242.5L510.8 243.3L513.3 242.5L516.7 241.7L520.0 242.5L523.3 241.7L526.7 242.5L522.5 245.0L519.2 248.3L518.3 252.5L515.0 255.8L513.3 259.2L509.2 261.7L504.2 263.3L499.2 262.5L497.5 258.3L498.3 253.3L496.7 250.8Z"/>
<path fill="#bfd3e6" d="M459.2 237.5L461.7 235.8L465.0 236.7L467.5 235.8L469.2 239.2L471.7 242.5L475.8 243.3L479.2 242.5L483.3 241.7L487.5 242.5L491.7 244.2L495.8 246.7L498.3 248.3L496.7 250.8L498.3 253.3L497.5 258.3L499.2 262.5L501.7 265.8L504.2 269.2L502.5 270.8L501.7 274.2L498.3 274.2L494.2 272.5L490.8 270.0L488.3 271.3L484.2 270.8L480.0 269.2L476.7 266.7L474.2 263.3L470.8 261.3L468.0 258.8L465.3 255.3L463.7 250.3L461.2 246.2L458.7 242.3Z"/>
<path fill="#bfd3e6" d="M540.0 212.5L544.2 211.7L548.3 213.3L551.7 216.7L556.7 218.3L561.7 220.0L566.7 222.5L573.3 224.2L580.0 225.8L585.0 226.7L590.0 224.2L593.3 222.5L594.2 220.0L595.8 218.3L598.3 216.7L600.0 215.8L599.2 215.0L598.3 214.7L598.3 214.7L597.5 212.5L599.2 208.3L600.0 203.3L601.7 201.7L605.8 200.8L611.7 202.5L616.7 205.8L621.7 210.0L626.7 212.5L630.0 215.0L633.3 214.2L636.7 215.0L637.5 220.0L635.8 223.3L638.3 227.5L637.0 228.3L634.2 229.2L630.8 231.7L628.3 234.2L626.7 235.8L624.2 236.7L621.7 234.2L619.2 233.3L616.7 235.8L615.0 238.3L617.5 240.8L621.7 241.7L625.8 242.5L626.7 244.2L624.2 245.8L622.5 249.2L625.0 251.7L629.2 255.0L632.5 259.2L633.3 263.3L631.7 268.3L629.2 273.3L625.8 277.5L621.7 280.0L617.5 281.7L613.3 283.3L610.0 284.2L607.5 283.3L605.0 281.7L601.7 280.0L598.3 280.8L595.0 281.7L592.5 283.3L590.8 284.2L588.3 281.7L585.8 278.3L583.3 274.2L581.7 270.0L580.8 266.7L577.5 264.2L574.2 263.3L570.0 265.0L566.7 266.7L561.7 267.0L558.3 266.3L553.3 265.5L548.3 263.8L543.3 262.2L540.5 258.7L537.5 253.3L538.3 250.0L535.8 247.5L533.3 245.0L530.0 243.3L526.7 242.5L523.3 241.7L522.5 239.2L520.0 235.8L523.3 234.2L527.5 232.5L531.7 230.0L530.8 227.5L527.5 225.8L530.8 224.2L532.5 220.0L536.7 218.3L537.5 215.0ZM610.0 288.3L612.5 287.5L614.2 289.7L612.0 291.7L610.0 290.8Z"/>
<path fill="#bfd3e6" d="M634.2 275.0L635.8 273.3L637.0 276.7L635.8 281.7L634.2 279.2Z"/>
<path fill="#bfd3e6" d="M628.3 234.2L630.8 231.7L634.2 229.2L637.0 228.3L638.0 230.8L635.8 233.3L635.0 236.7L636.7 238.7L634.2 240.0L631.7 239.2L630.8 236.7Z"/>
<path fill="#bfd3e6" d="M634.2 240.0L636.7 238.7L640.0 240.8L642.5 244.2L643.3 247.5L640.8 249.2L638.3 248.7L636.7 245.0L635.0 242.5Z"/>
<path fill="#edf8fb" d="M655.8 222.5L658.3 220.8L661.7 223.3L665.8 225.0L666.7 226.7L663.3 228.3L661.7 230.8L658.3 229.2L656.7 225.8ZM660.0 232.5L662.5 231.7L664.2 235.8L666.7 240.0L668.3 244.2L666.7 247.5L663.3 249.2L660.0 250.8L655.8 252.5L652.5 254.2L650.0 252.5L652.5 250.0L656.7 247.5L660.0 244.2L660.8 239.2L659.7 235.0ZM646.7 253.3L650.0 252.8L652.5 254.7L651.7 257.5L649.2 258.3L647.0 255.8Z"/>
<path fill="#edf8fb" d="M504.2 263.3L509.2 261.7L513.3 259.2L515.0 255.8L518.3 252.5L519.2 248.3L522.5 245.0L526.7 242.5L530.0 243.3L533.3 245.0L535.8 247.5L533.3 250.0L530.8 250.8L528.7 254.2L526.7 258.3L523.7 262.5L520.3 266.3L518.7 270.0L522.5 271.7L522.0 275.8L517.5 276.7L515.0 273.3L511.7 273.3L506.7 274.2L501.7 274.2L502.5 270.8L504.2 269.2L501.7 265.8L499.2 262.5Z"/>
<path fill="#edf8fb" d="M517.5 276.7L522.0 275.8L522.5 271.7L518.7 270.0L520.3 266.3L523.7 262.5L526.7 258.3L528.7 254.2L530.8 250.8L533.3 250.0L535.8 247.5L538.3 250.0L537.5 253.3L540.0 257.5L540.8 261.7L541.7 264.2L546.7 265.8L551.7 268.0L556.7 269.7L560.3 270.0L560.8 267.0L562.0 267.0L563.3 269.7L567.5 269.2L568.3 266.7L570.0 265.0L574.2 263.3L577.5 264.2L580.8 266.7L578.3 269.2L575.8 271.7L574.7 275.0L573.3 278.3L572.0 280.0L571.7 280.0L570.0 277.5L569.2 274.2L566.7 272.5L564.2 270.8L561.7 271.7L563.0 275.8L565.0 280.0L567.5 281.7L564.2 283.3L559.2 287.5L555.0 291.7L550.8 295.8L547.5 300.0L546.3 305.0L545.8 311.7L544.2 315.8L541.3 319.2L538.3 314.2L535.0 307.5L531.7 300.0L529.2 292.5L527.5 286.7L525.8 285.0L522.5 283.3L520.0 280.0L521.3 278.0Z"/>
<path fill="#edf8fb" d="M540.8 261.7L545.0 261.7L550.0 263.3L555.0 265.0L560.0 267.0L560.8 267.0L560.3 270.0L556.7 269.7L551.7 268.0L546.7 265.8L541.7 264.2Z"/>
<path fill="#bfd3e6" d="M562.0 267.0L565.0 265.8L568.3 266.7L567.5 269.2L563.3 269.7Z"/>
<path fill="#edf8fb" d="M561.7 271.7L564.2 270.8L566.7 272.5L569.2 274.2L570.0 277.5L571.7 280.0L570.8 282.5L569.2 280.8L567.5 281.7L565.0 280.0L563.0 275.8Z"/>
<path fill="#edf8fb" d="M546.3 316.3L548.3 314.2L550.8 317.5L551.3 321.7L549.2 324.2L546.7 321.7Z"/>
<path fill="#9ebcda" d="M580.8 266.7L583.3 270.8L585.0 275.0L587.5 279.2L590.8 282.5L589.2 285.0L586.7 287.5L585.0 290.8L585.8 295.0L587.5 299.2L589.2 303.3L590.8 308.3L590.0 312.5L588.7 309.2L587.5 304.2L585.8 299.2L583.3 296.7L580.8 298.3L578.3 297.5L576.7 292.5L574.2 288.3L572.0 284.2L572.0 280.0L573.3 278.3L574.7 275.0L575.8 271.7L578.3 269.2Z"/>
<path fill="#edf8fb" d="M586.7 287.5L589.2 285.0L591.7 286.7L593.3 290.0L596.7 290.8L600.0 292.5L602.5 296.7L603.3 300.8L600.0 302.5L597.5 304.2L598.3 307.5L595.8 306.7L593.3 305.0L591.7 308.3L590.8 312.5L590.0 316.7L591.7 320.8L594.2 324.2L595.8 326.7L593.3 325.8L590.8 322.5L589.2 318.3L588.7 312.5L590.8 308.3L589.2 303.3L587.5 299.2L585.8 295.0L585.0 290.8Z"/>
<path fill="#edf8fb" d="M590.8 282.5L593.3 281.7L595.8 283.3L598.3 285.8L601.7 289.2L604.2 292.5L606.7 297.5L608.3 301.7L605.8 303.3L603.3 300.8L602.5 296.7L600.0 292.5L596.7 290.8L593.3 290.0L591.7 286.7L589.2 285.0Z"/>
<path fill="#bfd3e6" d="M595.0 280.8L598.3 280.0L602.5 280.8L605.0 281.7L604.2 285.8L602.5 288.3L605.0 291.7L608.3 295.8L611.7 300.8L614.2 305.8L613.3 310.8L610.0 313.3L606.7 315.8L604.2 316.7L604.2 313.3L607.5 310.8L609.2 307.5L608.3 301.7L606.7 297.5L604.2 292.5L601.7 289.2L598.3 285.8L595.8 283.3L593.3 281.7Z"/>
<path fill="#edf8fb" d="M597.5 304.2L600.0 302.5L603.3 300.8L605.8 303.3L608.3 301.7L609.2 307.5L607.5 310.8L604.2 312.5L600.8 311.7L598.3 309.2L598.3 307.5Z"/>
<path fill="#edf8fb" d="M589.2 315.0L591.7 316.7L595.0 320.8L598.3 324.2L600.8 327.5L602.5 331.7L603.0 335.8L600.8 335.0L598.3 331.7L595.8 327.5L593.3 323.3L590.8 319.7L588.7 317.0Z"/>
<path fill="#edf8fb" d="M582.5 325.8L585.8 325.0L590.0 329.2L594.2 334.2L599.2 339.2L604.2 343.3L607.5 348.3L607.5 354.2L605.8 355.8L602.5 352.5L598.3 347.5L594.2 342.5L590.0 336.7L585.8 330.8L583.0 328.0ZM605.8 355.8L610.0 355.3L615.8 356.7L621.7 358.3L626.7 360.0L628.3 361.7L625.0 362.5L619.2 361.3L613.3 360.0L608.3 358.7ZM631.7 362.0L635.8 361.3L636.7 362.7L632.5 363.3ZM638.3 362.0L645.0 361.3L645.8 362.5L640.0 363.3ZM646.7 365.0L651.7 362.0L655.8 361.7L653.3 364.2L648.3 366.3ZM636.7 364.7L639.7 365.0L638.3 366.3ZM615.0 335.0L619.2 332.5L623.3 330.0L627.5 327.5L631.7 322.5L634.2 323.3L636.7 325.8L635.0 329.2L635.8 333.3L636.7 336.7L634.2 340.0L632.5 344.2L630.0 349.2L626.7 350.0L622.5 348.3L619.2 347.5L616.3 343.3L614.7 339.2ZM637.5 340.0L640.0 337.5L645.0 336.7L650.0 335.8L651.7 336.7L648.3 339.2L644.2 340.0L641.7 341.7L644.2 345.0L646.7 350.0L646.3 354.2L644.2 351.7L642.0 347.5L640.3 350.0L639.7 354.2L638.0 352.5L638.3 346.7L637.0 343.3ZM657.0 335.0L658.7 334.7L659.2 338.3L658.3 341.7L657.0 340.0ZM653.3 348.3L658.3 347.5L663.3 348.0L664.2 349.2L660.0 349.2L655.0 349.3ZM671.3 354.7L672.7 354.2L673.0 357.0L671.7 357.5ZM664.2 342.5L667.5 340.8L670.8 341.7L672.5 344.2L670.0 345.8L668.3 347.5L670.8 349.2L674.2 347.5L677.5 345.8L681.7 344.2L685.8 345.0L688.0 346.7L687.5 363.3L684.2 362.5L680.8 361.7L679.2 359.2L676.7 355.8L674.2 352.5L670.8 350.8L668.0 349.2L666.7 345.8Z"/>
<path fill="#edf8fb" d="M688.0 346.7L691.7 348.3L695.8 350.8L700.0 353.3L703.3 355.8L702.5 358.3L704.2 361.7L706.7 365.0L709.2 367.0L706.7 367.5L703.3 365.8L700.0 363.3L696.7 360.8L693.3 360.8L690.8 363.3L687.5 363.3ZM705.0 353.7L709.2 353.0L712.5 350.8L713.3 347.5L714.2 349.2L711.7 352.5L707.5 354.2L704.2 355.0Z"/>
<path fill="#edf8fb" d="M637.5 291.7L640.8 291.7L641.7 295.0L640.8 299.2L642.5 302.5L645.8 304.2L647.5 306.7L645.0 306.7L641.7 305.0L639.2 303.3L638.3 300.0L637.0 295.8ZM642.5 310.0L645.8 309.2L648.3 311.7L646.7 315.0L644.2 314.2L643.0 311.7ZM644.2 319.2L647.5 316.7L650.0 315.0L652.5 316.7L654.2 320.8L653.0 324.2L650.8 325.0L649.2 322.5L646.7 321.7L644.7 321.3ZM632.5 317.5L635.0 314.2L637.5 310.8L638.0 311.7L635.8 315.0L633.3 318.3Z"/>
<path fill="#9ebcda" d="M627.3 326.2L628.7 325.3L629.5 327.0L628.2 327.8Z"/>
<path fill="#9ebcda" d="M614.0 429.0L616.0 424.0L619.0 418.0L618.0 413.0L617.0 408.0L619.0 402.0L620.0 398.0L626.0 395.0L633.0 392.0L639.0 389.0L642.0 384.0L647.0 380.0L653.0 377.0L658.0 378.0L662.0 373.0L666.0 369.0L670.0 371.0L677.0 371.6L674.0 375.0L673.0 379.0L678.0 383.0L682.0 386.0L686.0 381.0L688.0 374.0L690.0 368.0L692.0 375.0L695.0 380.0L696.0 387.0L700.0 393.0L703.0 399.0L705.6 406.0L705.0 413.0L702.0 419.0L697.0 425.0L692.0 430.0L687.0 435.0L683.0 439.0L678.0 440.0L675.0 442.0L670.0 440.0L665.0 439.0L664.0 434.0L665.0 428.0L662.0 431.0L659.0 430.0L657.0 425.0L652.0 422.0L646.0 422.4L639.0 424.0L633.0 426.0L627.0 429.0L621.0 431.0L617.0 431.6ZM669.0 447.0L673.0 446.0L677.0 446.4L675.0 450.0L671.0 453.0L668.0 453.0Z"/>
<path fill="#9ebcda" d="M739.0 431.0L741.0 430.0L742.0 435.0L746.0 437.0L747.0 439.0L743.0 442.0L740.0 444.0L736.0 447.0L733.0 448.4L732.0 446.0L736.0 442.0L739.0 438.0L739.6 434.0ZM705.0 459.0L709.0 456.0L715.0 453.0L721.0 450.0L727.0 446.4L730.0 446.0L729.6 448.4L725.0 451.6L719.0 455.0L713.0 458.4L708.0 461.0L705.6 460.4Z"/>
<path fill="url(#hatch)" d="M734.0 392.0L736.0 391.6L740.0 397.0L738.4 398.0Z"/>
<path fill="#edf8fb" d="M730.0 361.0L733.0 363.0L735.0 366.0L733.0 366.4L730.4 363.6ZM719.0 354.0L722.0 355.0L724.0 358.0L721.0 357.0ZM725.0 358.0L728.0 360.0L730.0 363.0L727.0 362.0ZM731.0 363.0L734.0 365.0L735.0 368.0L732.0 367.0Z"/>
<path fill="#edf8fb" d="M743.4 378.4L744.6 378.0L745.2 381.6L744.0 382.0Z"/>
<path fill="#edf8fb" d="M352.5 246.3L355.8 246.7L360.0 247.5L365.0 245.0L370.8 243.3L376.7 242.5L380.8 242.5L384.2 241.7L387.5 242.5L386.7 245.8L388.3 249.2L387.5 251.7L385.8 254.2L389.2 255.8L393.3 255.0L398.3 256.7L402.5 257.5L406.7 259.2L408.3 255.8L410.8 254.2L415.8 255.0L418.3 256.7L423.3 257.5L428.3 258.3L433.3 257.5L436.7 258.0L439.7 259.2L440.5 262.5L438.3 266.7L435.0 262.0L437.5 268.3L440.8 275.0L445.0 282.5L448.3 289.2L450.8 294.2L454.2 299.2L457.5 303.3L460.0 306.7L461.7 308.3L463.3 310.8L468.3 310.0L474.2 309.2L479.2 308.3L480.8 310.0L480.0 314.2L477.5 319.2L474.2 324.2L470.0 329.2L465.8 334.2L461.7 339.2L458.3 344.2L455.8 348.3L454.2 351.7L453.3 358.3L454.2 363.3L455.8 367.5L455.8 373.3L455.0 378.3L451.7 383.3L447.5 386.7L443.3 390.0L441.7 394.2L443.0 398.3L442.9 401.8L440.6 403.5L437.6 405.3L435.9 407.1L436.5 410.0L435.3 412.9L432.9 416.5L430.0 420.0L426.5 423.5L422.9 426.5L419.4 428.2L414.7 428.8L410.0 429.4L406.5 430.8L404.1 430.0L402.4 427.6L402.9 424.1L401.8 420.0L400.0 415.3L397.6 410.6L395.9 404.7L395.3 400.0L395.0 398.3L392.5 391.7L389.7 385.0L389.7 380.0L391.7 373.3L395.0 368.3L393.3 361.7L391.7 355.0L389.2 350.0L385.8 344.2L385.0 338.3L384.2 334.2L383.3 330.0L381.7 327.5L379.2 328.3L375.0 325.8L370.0 323.7L365.0 324.2L360.8 325.8L355.8 327.0L350.8 326.7L345.8 328.3L344.2 327.5L340.0 325.0L336.7 322.5L333.3 319.2L331.7 315.0L329.2 311.7L325.8 309.2L324.2 305.8L322.5 302.5L323.3 300.8L325.8 295.0L325.0 289.2L324.2 284.2L325.8 280.0L329.2 274.2L332.5 270.0L335.8 267.5L339.2 264.2L341.7 260.0L342.5 255.8L345.8 251.7L350.0 248.3Z"/>
<path fill="#edf8fb" d="M474.2 371.7L476.7 372.5L478.0 375.8L477.5 380.0L475.8 385.0L473.7 390.8L471.7 396.7L469.2 402.5L465.8 405.8L462.5 405.3L460.8 400.8L461.3 395.8L463.3 390.8L464.2 385.8L465.3 382.5L469.2 380.0L472.0 375.8Z"/>
<path fill="url(#hatch)" d="M325.8 280.0L329.2 274.2L332.5 270.0L335.8 267.5L344.2 267.5L343.7 270.8L341.7 271.7L335.3 272.0L334.2 276.7L333.0 282.5L326.7 283.3L324.2 284.2Z"/>
<path fill="#edf8fb" d="M441.0 245.0L445.0 244.0L450.0 243.0L454.0 242.5L459.0 242.5L460.5 245.0L462.0 247.0L463.0 249.0L462.0 250.5L463.5 252.5L465.5 254.5L467.0 256.5L468.5 258.5L469.5 260.0L470.5 261.0L470.0 262.5L470.5 264.5L472.0 266.5L473.5 268.5L475.5 271.0L476.5 272.2L477.5 271.5L478.7 272.2L479.0 274.2L478.5 275.8L479.0 276.5L481.0 277.0L484.0 276.5L486.0 275.0L487.5 273.0L489.0 271.2L489.8 271.8L490.0 273.3L491.7 276.7L495.0 279.2L497.5 281.7L495.8 285.8L493.3 290.0L488.3 294.2L483.3 297.5L478.3 300.0L472.5 302.5L466.7 305.0L463.3 305.8L462.7 301.7L461.7 297.5L459.5 292.5L455.8 286.7L451.7 280.0L446.7 273.3L441.7 267.5L440.0 263.0L439.0 260.0L438.5 257.0L439.2 254.0L440.0 252.5L440.5 250.0L440.0 247.0L439.2 244.5Z"/>
<path fill="#bfd3e6" d="M479.0 276.5L481.0 277.0L484.0 276.5L486.0 275.0L487.5 273.0L489.0 271.2L490.0 272.5L489.7 275.0L489.0 277.0L488.0 279.5L486.5 281.0L484.0 280.5L481.5 279.5L479.8 278.5Z"/>
<path fill="#bfd3e6" d="M476.5 272.2L477.5 271.5L478.7 272.2L479.0 274.2L478.5 275.8L477.2 275.5L476.6 274.0Z"/>
<path fill="#bfd3e6" d="M467.0 262.0L468.5 261.0L470.0 262.5L470.5 264.5L469.0 265.5L467.5 264.0Z"/>
<path fill="#9ebcda" d="M439.2 254.0L440.5 252.5L441.2 253.5L440.8 256.0L440.5 259.0L440.0 263.0L439.0 260.0L438.5 257.0Z"/>
<path fill="#9ebcda" d="M378.1 142.7L382.6 142.0L388.2 141.3L393.2 140.6L398.1 141.0L402.1 141.6L398.1 143.0L393.2 143.4L391.8 144.8L388.9 147.6L386.8 148.4L384.0 146.7L380.5 144.8ZM394.2 145.5L398.1 145.2L399.2 146.2L395.3 146.7Z"/>
<path fill="#edf8fb" d="M766.0 386.0L769.0 384.5L770.0 387.0L767.0 388.0ZM771.0 383.0L774.0 382.0L773.5 384.0L771.5 384.5Z"/>
<path fill="#9ebcda" d="M375.6 217.6L377.1 216.2L379.9 215.8L382.4 216.5L383.4 217.6L381.6 219.0L379.2 219.7L377.1 219.3Z"/>
<path fill="#9ebcda" d="M383.4 217.6L382.4 216.5L386.2 216.2L388.3 215.5L390.1 213.7L392.6 213.0L395.1 213.5L397.2 214.4L396.8 216.2L395.8 217.6L393.6 218.3L391.2 218.6L389.1 217.6L386.9 217.2Z"/>
<path fill="#8c96c6" d="M391.5 219.3L391.2 218.6L393.6 218.3L395.8 217.6L396.7 219.0L395.1 220.4L392.9 221.5L391.5 221.1Z"/>
<path fill="#6e016b" d="M540.1 211.9L543.2 209.3L546.4 207.7L550.7 209.0L554.9 209.8L557.8 209.6L558.1 205.1L561.8 206.1L565.5 207.2L568.7 208.8L572.4 209.3L575.6 208.8L578.7 209.8L581.9 211.4L585.1 211.4L588.8 210.9L591.4 209.3L594.6 209.8L596.7 210.9L597.8 214.6L600.4 215.1L603.1 214.6L605.7 216.2L607.9 217.5L604.7 218.8L602.0 219.9L598.9 221.5L595.7 222.8L594.6 225.2L592.5 227.3L589.3 228.9L586.1 230.0L584.0 231.0L580.8 229.7L577.7 229.4L574.5 228.7L571.3 229.1L568.1 228.7L565.0 228.4L562.3 226.2L560.2 224.1L557.0 222.8L553.8 222.0L550.7 221.3L549.1 218.8L546.9 216.7L543.8 215.1L541.1 213.5Z"/>
<path fill="#8c96c6" d="M460.4 218.8L464.7 217.9L467.8 227.8L468.8 231.7L465.0 232.5L463.4 231.7L460.4 223.4Z" style="stroke:none"/>
<path fill="#9ebcda" d="M461.6 218.2L464.7 216.7L469.3 216.7L472.8 218.5L472.8 221.6L470.8 223.4L470.8 225.3L473.9 228.4L476.1 229.7L476.1 230.8L472.4 230.8L467.8 226.2L467.2 221.6L464.1 219.8Z" style="stroke:none"/>
<path fill="#bfd3e6" d="M474.9 229.7L478.6 230.8L478.6 233.9L477.0 235.8L479.5 241.3L477.0 241.3L473.9 233.9Z" style="stroke:none"/>
<path fill="#bfd3e6" d="M468.3 232.1L470.8 235.5L469.3 238.6L467.8 238.6L469.0 236.4L467.8 234.2L464.7 232.9Z" style="stroke:none"/>
<path fill="#ffffff" d="M460.0 223.3L462.5 220.4L465.8 218.3L469.2 217.5L471.7 218.3L472.1 220.8L470.0 222.1L467.9 223.8L468.3 225.8L470.4 227.9L472.9 230.4L475.0 231.2L476.7 230.8L477.9 232.1L476.2 233.3L475.0 232.9L475.8 235.4L477.5 238.3L478.8 240.8L477.9 242.9L475.0 243.8L471.7 242.9L468.8 240.8L467.9 238.3L469.2 235.8L468.8 233.8L466.7 232.1L465.0 229.6L462.9 227.1L461.2 225.4Z"/>
<path fill="#bfd3e6" d="M403.0 219.0L406.0 218.0L406.5 220.0L408.0 222.5L410.5 224.5L411.0 227.5L409.5 228.5L407.5 229.0L406.5 227.5L405.0 227.0L403.5 226.0L404.0 223.5L402.5 221.5Z"/>
<path fill="#edf8fb" d="M410.8 225.8L413.7 225.4L416.6 225.8L419.4 225.0L422.0 225.4L421.2 227.2L420.9 229.0L419.8 230.4L418.9 231.1L418.0 231.8L415.9 232.6L414.1 232.1L412.3 232.2L410.8 231.6L410.5 230.2L411.2 228.6L410.5 227.2Z"/>
<path fill="#bfd3e6" d="M405.1 235.4L406.5 234.0L408.0 232.9L410.1 232.8L412.3 232.2L414.1 232.1L415.9 232.6L418.0 231.8L418.9 231.1L419.3 232.6L417.3 233.3L415.1 233.6L414.1 233.3L413.0 233.8L414.3 235.1L413.4 235.8L411.9 234.7L410.8 234.4L410.5 235.4L411.6 236.9L412.6 238.7L414.1 240.1L414.4 241.2L413.0 241.5L412.3 242.6L412.6 244.0L411.6 244.5L410.1 243.0L409.1 241.2L408.1 239.4L407.3 237.9L406.2 236.9ZM414.0 247.0L416.5 246.8L419.5 247.8L419.0 248.8L416.0 248.5L414.2 248.0Z"/>
<path fill="#bfd3e6" d="M404.0 230.1L405.1 229.3L406.4 230.1L406.5 231.8L406.9 233.3L406.5 234.0L405.1 235.4L404.2 234.0L404.0 231.8Z"/>
<path fill="#edf8fb" d="M406.9 230.4L408.7 229.9L410.5 230.2L410.8 231.6L410.1 232.8L408.0 232.9L406.9 232.2Z"/>
<path fill="#edf8fb" d="M405.8 228.3L407.3 227.9L408.0 229.0L406.9 230.2L406.2 229.7Z"/>
<path fill="#edf8fb" d="M402.1 227.5L403.3 226.8L404.4 227.9L405.1 229.2L404.0 230.1L403.0 229.3Z"/>
<path fill="none" style="stroke-width:0.45" d="M619.2 332.5L621.7 333.7L625.8 331.7L630.0 330.8L633.3 329.2L635.0 329.2M355.8 246.7L357.5 250.0L360.0 252.5L359.2 255.8L354.2 258.3L350.0 260.8L345.0 264.2L344.2 267.5M344.2 269.2L349.2 273.3L372.5 289.2L378.3 285.0L389.2 278.7M389.2 278.7L385.8 275.0L384.2 270.0L385.0 265.0L383.3 260.0L381.7 255.0L379.2 250.8L380.0 248.3L380.8 242.5M381.7 255.0L384.2 253.3L385.8 254.2M349.2 273.3L350.0 285.3M389.2 278.7L396.7 280.8L417.5 288.3L419.2 287.5L419.2 282.5L445.8 282.5M418.3 256.7L418.7 268.3L419.2 282.5M419.2 287.5L417.0 293.3L415.0 300.0M350.0 285.0L350.5 298.5L344.0 299.0L339.0 300.0L336.0 301.0M325.0 297.5L328.0 296.2L331.0 296.8L334.0 299.0L336.0 301.0L335.5 304.0L336.5 306.5M324.2 304.2L326.5 303.8L329.0 304.2L331.0 304.6L329.0 305.0L326.5 304.8L324.2 305.0M325.5 307.5L329.0 306.5L333.0 307.0L336.5 306.5M329.0 306.5L330.0 308.5L328.0 310.5M336.5 306.5L339.5 307.5L342.0 307.5L343.5 310.5L344.2 313.0M333.0 318.0L333.0 315.5L335.0 313.5L337.5 313.5L339.0 316.0L338.5 318.5L337.0 321.0L335.5 321.5M339.0 316.0L341.5 318.0L343.0 320.0L344.2 317.0L344.2 313.0M343.0 320.0L344.5 323.5L345.5 328.5M344.2 313.0L347.0 313.5L349.0 312.5L350.5 313.0L352.5 314.5L356.0 314.0L356.5 318.0L355.8 322.0L356.0 326.5M350.5 313.0L351.0 309.5L353.0 306.0L356.5 303.0L360.0 301.0L363.0 301.0L365.0 304.5L367.0 306.5L370.0 307.5L367.5 309.0L365.0 311.0L362.0 310.8L358.0 310.8L356.0 311.5L356.0 314.0M363.0 301.0L367.0 300.0L371.5 298.5L372.5 295.0L372.8 289.8M365.0 311.0L364.5 315.0L365.0 319.0L365.8 323.8M366.7 311.2L366.8 315.0L367.0 319.0L367.2 323.7M370.0 307.5L370.5 311.0L369.5 315.0L369.0 319.5L369.5 323.5M370.0 307.5L372.5 305.0L374.5 303.5L378.0 304.5L382.0 306.0L386.0 306.5L390.0 305.0L393.5 304.5L395.5 305.5M395.5 305.5L394.0 301.0L396.5 296.0L398.0 290.0L398.0 285.0L396.7 280.8M395.5 305.5L397.0 309.0L395.0 312.5L393.0 317.0L391.0 320.5L388.0 322.5L385.0 324.0L383.0 327.0L383.5 330.5M395.5 306.0L396.5 309.5L398.0 313.0L395.5 314.5L397.0 317.5L399.0 320.0L397.0 322.5L396.5 325.5L397.5 328.5L399.0 331.0L399.5 334.0L395.0 333.5L390.0 333.5L385.0 333.5L384.5 334.5M399.0 320.0L403.0 318.5L407.0 317.0L410.0 315.0L413.5 311.5L414.5 310.0L413.5 306.5L414.0 303.0L414.5 300.0M414.5 310.0L417.0 314.0L419.5 318.0L422.5 321.5L425.0 325.0L426.0 326.2M426.0 326.2L423.0 326.5L420.0 327.0L417.0 328.0L414.5 329.0L412.0 328.0L409.5 327.0L407.0 327.5L405.5 329.5L405.0 331.0L404.8 335.0L404.0 339.0L402.0 342.0L400.0 345.0L398.5 348.0L396.5 350.0L394.0 352.0L391.0 352.5L390.0 351.5M399.5 334.0L402.0 332.0L405.0 331.0M419.0 315.0L421.0 313.0L424.0 313.5L427.0 315.0L429.5 314.0L432.5 313.0L435.5 311.5L436.5 308.5L438.5 308.0L439.0 311.0L440.0 315.0L439.0 318.5L441.5 321.5L444.0 325.0L445.0 326.2M426.0 326.2L429.5 328.5L433.0 330.0L437.0 329.5L441.0 329.0L445.0 326.2M445.0 326.2L448.0 328.5L452.0 330.0L456.0 329.5L459.0 328.0M439.0 318.5L441.0 314.0L443.0 310.0L445.0 306.0L447.0 303.0L449.0 301.0M433.0 330.0L434.5 334.0L432.5 338.0L431.5 342.0L432.0 343.0L435.0 342.5L441.0 342.0L441.5 339.0L443.0 335.0L442.5 331.0L441.0 329.0M441.0 342.0L445.0 344.0L449.0 347.0L453.0 351.0L454.0 353.0M432.0 343.0L434.0 344.0L433.5 346.0L431.0 346.5L430.5 344.5M431.0 346.8L433.0 348.0L432.0 351.0L430.5 350.5M432.0 343.0L430.5 344.5L431.0 346.8L430.5 350.5L430.5 355.0L432.0 360.0M389.0 333.6L389.0 337.0L385.0 337.2M389.0 337.0L393.5 336.5L394.0 334.5L395.5 338.0L396.5 342.0L394.5 344.5L392.0 345.5L390.0 347.0L389.0 349.0L390.0 351.5M390.0 351.5L391.5 353.0L394.0 352.0M391.5 353.0L392.0 354.5M392.0 354.5L400.5 354.5L401.2 357.0L402.5 359.0L406.0 360.0L408.5 358.0L411.5 358.5L413.0 361.0L413.5 365.0L414.5 368.0L417.5 368.5L417.0 373.0L413.5 373.5L412.8 378.0L413.5 383.0L415.0 385.5M417.5 368.5L422.0 370.0L426.0 371.5L428.5 373.5L430.5 373.5L430.0 371.0L429.0 368.0L429.5 363.5L431.0 361.8L435.0 362.0L438.5 364.0L440.0 364.5M435.0 362.0L432.5 358.0L430.5 355.0M440.0 364.5L439.0 369.0L438.0 373.0L437.0 376.0M440.0 364.5L441.5 369.0L442.0 373.0L444.0 376.5L444.2 381.0L443.0 383.0L441.5 381.5L441.0 377.5L438.5 376.5L437.0 376.0M442.0 370.0L446.0 370.5L451.0 369.0L455.5 367.0M437.0 376.0L434.0 378.5L432.5 380.0L429.5 382.5L426.5 385.0L424.0 386.5L421.0 386.0L418.0 385.0L415.0 385.5M389.5 384.5L395.0 384.5L400.0 384.5L405.0 385.0L408.0 386.0L412.0 386.5L415.0 385.5M411.0 386.5L410.5 391.0L410.2 396.0L408.5 396.5L407.8 401.0L407.5 407.0L407.2 411.0L407.0 415.0M421.0 386.0L423.0 390.0L425.0 393.5L428.0 396.5L431.0 397.5L433.0 398.0M432.5 380.0L436.0 381.5L438.0 384.5L437.5 389.0L436.0 394.0L434.5 397.0L433.0 398.0M407.5 407.0L409.5 409.5L412.0 407.5L415.0 406.0L417.5 407.0L420.0 405.0L423.0 402.0L426.0 399.0L429.0 397.5L431.0 397.5M433.0 398.0L434.0 402.0L434.5 406.0L435.0 409.0L436.0 410.5M432.5 406.5L434.5 406.0L435.5 408.0L435.0 410.5L433.0 411.0L431.8 409.0L432.5 406.5M450.8 294.2L448.3 298.3L447.5 301.7M447.5 301.7L452.5 302.5L457.5 305.8L460.0 306.7M460.0 306.7L459.7 310.8L462.5 311.3M462.5 311.3L466.7 315.8L472.5 318.3L468.3 322.5L463.3 325.8L459.2 327.5M459.2 327.5L458.0 333.3L458.3 340.0L459.7 343.3M398.2 411.8L400.6 414.7L404.1 415.3L406.5 413.5L407.6 409.4L407.4 404.7L407.2 402.9M422.4 417.1L425.9 414.1L428.2 416.2L424.7 419.8L422.4 417.1M440.5 250.0L441.8 249.5L441.5 252.0L440.5 252.5M441.2 253.5L442.5 254.5L445.0 253.5L448.5 251.0L452.0 248.5L453.0 245.0L454.0 242.5M448.5 251.0L448.5 253.0L449.0 255.0L446.5 256.5L447.5 259.0L445.0 262.0L442.5 263.5L440.5 263.0M449.0 255.0L452.5 256.5L456.5 258.5L460.0 261.0L464.0 263.0L467.0 262.0M461.7 297.5L462.5 295.0L466.7 294.2L471.7 293.3L476.7 290.8L481.7 289.2L483.3 297.5M481.7 289.2L486.7 285.8L488.3 280.8L485.8 280.0L481.7 279.7L479.2 278.0M489.7 275.0L489.0 277.0L488.0 279.5"/>
</g>
<g>
<rect x="186.5" y="537.5" width="47" height="10.5" fill="url(#hatch)" stroke="#bbb" stroke-width="0.8"/>
<line x1="210" y1="534.5" x2="210" y2="537.5" stroke="#bbb" stroke-width="0.8"/>
<text class="l" x="210" y="530.5" text-anchor="middle">No data</text>
<rect x="253.5" y="537.5" width="58.6" height="10.5" fill="#edf7fa"/>
<rect x="312.1" y="537.5" width="58.6" height="10.5" fill="#bfd4e7"/>
<rect x="370.7" y="537.5" width="58.6" height="10.5" fill="#9ebbda"/>
<rect x="429.3" y="537.5" width="58.6" height="10.5" fill="#8c96c6"/>
<rect x="487.9" y="537.5" width="58.6" height="10.5" fill="#8c6bb1"/>
<rect x="546.5" y="537.5" width="58.6" height="10.5" fill="#88419d"/>
<path d="M605.1 537.5H658.5L663.7 542.75L658.5 548H605.1Z" fill="#6e016b"/>
<path d="M253.5 537.5H658.5L663.7 542.75L658.5 548H253.5Z" fill="none" stroke="#bbb" stroke-width="0.7"/>
<g stroke="#8a8f99" stroke-width="0.7"><line x1="253.5" y1="533.5" x2="253.5" y2="548"/><line x1="312.1" y1="533.5" x2="312.1" y2="548"/><line x1="370.7" y1="533.5" x2="370.7" y2="548"/><line x1="429.3" y1="533.5" x2="429.3" y2="548"/><line x1="487.9" y1="533.5" x2="487.9" y2="548"/><line x1="546.5" y1="533.5" x2="546.5" y2="548"/><line x1="605.1" y1="533.5" x2="605.1" y2="548"/></g>
<g class="l" text-anchor="middle"><text x="253.5" y="530.5">0%</text><text x="312.1" y="530.5">1%</text><text x="370.7" y="530.5">2%</text><text x="429.3" y="530.5">3%</text><text x="487.9" y="530.5">4%</text><text x="546.5" y="530.5">5%</text><text x="605.1" y="530.5">6%</text></g>
</g>
<text class="f" x="16" y="582" textLength="300" lengthAdjust="spacing"><tspan font-weight="700">Data source:</tspan> IHME, Global Burden of Disease (2025)</text>
<text class="f" x="834.5" y="581.5" text-anchor="end" textLength="251" lengthAdjust="spacing">OurWorldinData.org/illicit-drug-use | CC BY</text>
</svg>
</body></html>
